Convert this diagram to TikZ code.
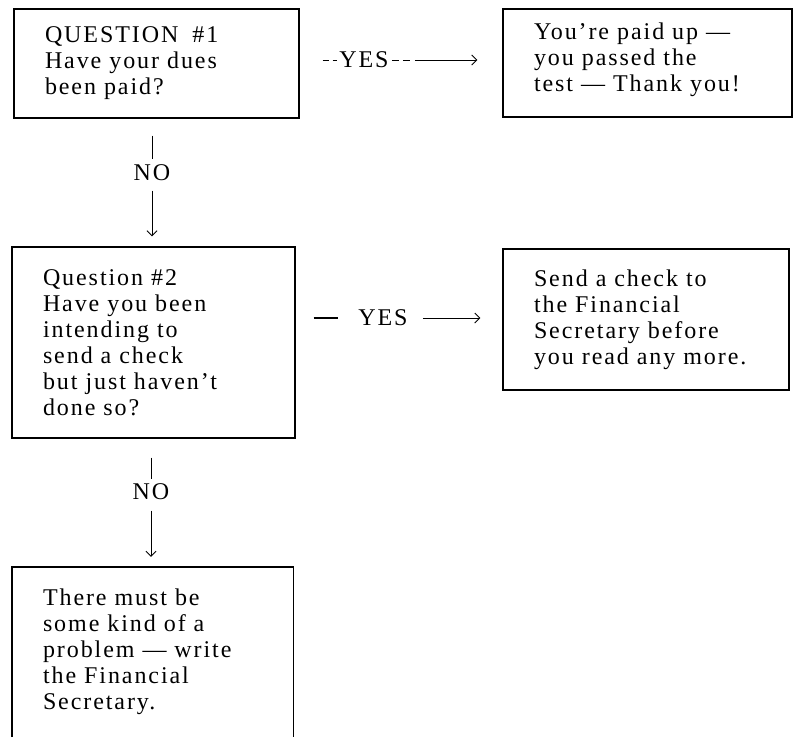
\documentclass[tikz,border=0pt]{standalone}
\usepackage{fontspec}
\newfontfamily\bodyfont[LetterSpace=8]{Liberation Serif}
\usetikzlibrary{arrows.meta}
\newcommand{\mdash}{\textemdash}
\newcommand{\txtfont}{\bodyfont\fontsize{24}{26}\selectfont\setlength{\spaceskip}{11.5pt plus 2pt minus 1pt}}
\tikzset{
  txt/.style={font=\txtfont},
  box/.style={txt, draw, line width=1.4pt, align=left, inner xsep=31pt, inner ysep=0pt, anchor=center},
  openbox/.style={txt, align=left, inner xsep=31pt, inner ysep=0pt, anchor=center},
  lbl/.style={txt, inner sep=0pt, text height=15pt, text depth=0pt},
  conn/.style={line width=0.8pt},
  tip/.style={-{Straight Barb[length=5pt,width=10pt,line width=0.8pt]}}
}
\begin{document}
\begin{tikzpicture}[x=1pt,y=-1pt]
\useasboundingbox (0,0) rectangle (794,737);
% boxes
\node[box, minimum width=285pt, minimum height=109pt, text width=223pt] (b1) at (156.5,63.5)
  {QUESTION\hspace{6pt} \#1\\Have your dues\\been paid?};
\node[box, minimum width=289pt, minimum height=108pt, text width=227pt] (b2) at (647.5,63)
  {You’re paid up \mdash\\you passed the\\test \mdash{} Thank you!\\[-14pt]\mbox{}};
\node[box, minimum width=283pt, minimum height=191pt, text width=221pt] (b3) at (153.5,342.5)
  {Question \#2\\Have you been\\intending to\\send a check\\but just haven’t\\done so?};
\node[box, minimum width=286pt, minimum height=141pt, text width=224pt] (b4) at (646,319.5)
  {Send a check to\\the Financial\\Secretary before\\you read any more.};
\node[openbox, minimum width=281pt, minimum height=170pt, text width=219pt] (b5) at (152.5,652)
  {There must be\\some kind of a\\problem \mdash{} write\\the Financial\\Secretary.};
\draw[line width=1.4pt] (b5.south west) -- (b5.north west) -- (b5.north east) -- (b5.south east);
% labels
\node[lbl] (no1) at (152,173) {NO};
\node[lbl] (no2) at (151,492) {NO};
\node[lbl] (yes1) at (364,60) {YES};
\node[lbl] (yes2) at (383,318) {YES};
% connectors
\draw[conn, shorten <=17pt, shorten >=6pt] (b1.south -| no1.north) -- (no1.north);
\draw[conn, tip, shorten <=10pt, shorten >=10pt] (no1.south) -- (no1.south |- b3.north);
\draw[conn, shorten <=19pt, shorten >=5pt] (b3.south -| no2.north) -- (no2.north);
\draw[conn, tip, shorten <=11pt, shorten >=10pt] (no2.south) -- (no2.south |- b5.north);
\draw[conn, dash pattern=on 6pt off 4pt, shorten <=23pt, shorten >=2pt] (b1.east |- yes1) -- (yes1.west);
\draw[conn, tip, dash pattern=on 7pt off 4pt on 7pt off 5pt on 100pt, shorten <=3pt, shorten >=25pt] (yes1.east) -- (b2.west |- yes1);
\draw[line width=1.3pt, shorten <=18pt, shorten >=20pt] (b3.east |- yes2) -- (yes2.west);
\draw[conn, tip, shorten <=15pt, shorten >=22pt] (yes2.east) -- (b4.west |- yes2);
\end{tikzpicture}
\end{document}
